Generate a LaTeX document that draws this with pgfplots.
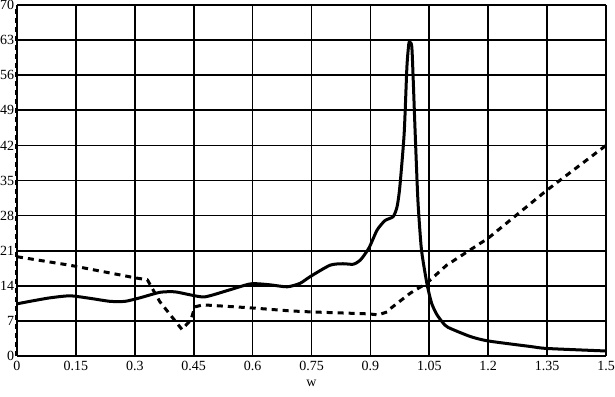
\documentclass[border=0pt]{standalone}
\usepackage{fontspec}
\setmainfont{Liberation Serif}
\usepackage{pgfplots}
\pgfplotsset{compat=1.18}
\begin{document}
\fontsize{14}{16}\selectfont
\begin{tikzpicture}[x=1pt,y=1pt]
\path[use as bounding box] (-17,-40) rectangle (598,356);
\begin{axis}[
  at={(0,0)}, anchor=south west,
  scale only axis, width=589pt, height=351pt,
  xmin=0, xmax=1.5, ymin=0, ymax=70,
  xtick={0,0.15,0.3,0.45,0.6,0.75,0.9,1.05,1.2,1.35,1.5},
  xticklabels={0,0.15,0.3,0.45,0.6,0.75,0.9,1.05,1.2,1.35,1.5},
  ytick={0,7,14,21,28,35,42,49,56,63,70},
  yticklabels={0,7,14,21,28,35,42,49,56,63,70},
  grid=major, major grid style={black, line width=1.7pt},
  axis line style={draw=none},
  major tick length=0pt,
  tick label style={font=\fontsize{14}{16}\selectfont},
  yticklabel style={xshift=2pt},
  /pgf/number format/assume math mode=true,
  xlabel={w},
  xlabel style={at={(axis description cs:0.5,0)}, anchor=center, yshift=-27pt, font=\fontsize{14}{16}\selectfont},
  clip=false,
]
% left-edge dashed segment
\addplot[black, line width=3pt, dash pattern=on 5pt off 4pt] coordinates {(0,0) (0,70)};
% bottom solid line
\addplot[black, line width=1.8pt] coordinates {(0,0) (1.5,0)};
% solid curve
\addplot[black, line width=3pt, line join=round, smooth, tension=0.4] coordinates {
(0,10.4) (0.033,10.9) (0.084,11.6) (0.135,12.0) (0.186,11.5) (0.237,10.9) (0.275,10.9)
(0.313,11.6) (0.364,12.7) (0.402,12.8) (0.441,12.2) (0.479,11.8) (0.542,13.2) (0.596,14.4)
(0.644,14.2) (0.688,13.8) (0.721,14.5) (0.746,15.8) (0.797,18.1) (0.830,18.4) (0.856,18.3)
(0.874,19.1) (0.896,21.5) (0.917,25.1) (0.937,27.0) (0.958,27.8) (0.968,29.8) (0.975,33.8)
(0.986,44.4) (0.993,57.7) (0.998,62.4) (1.001,62.5) (1.006,61.0) (1.014,44.5) (1.021,31.0)
(1.029,22.0) (1.035,18.5) (1.045,14.0) (1.056,10.5) (1.069,8.3) (1.085,6.6) (1.098,5.7) (1.154,3.9)
(1.2,3.0) (1.307,1.9) (1.35,1.5) (1.5,1.0)
};
% dashed curve
\addplot[black, line width=3pt, dash pattern=on 6pt off 5pt, line join=round] coordinates {
(0,19.8) (0.135,18.1) (0.3,15.6) (0.332,15.2) (0.364,10.8) (0.42,5.3) (0.443,7.2) (0.453,9.8)
(0.474,10.2) (0.596,9.6) (0.695,9.0) (0.746,8.8) (0.896,8.4) (0.92,8.2) (0.943,8.8) (0.95,9.4)
(1.001,12.5) (1.043,14.5) (1.094,18.1) (1.2,23.5) (1.35,33.1) (1.5,42.0)
};
\end{axis}
\end{tikzpicture}
\end{document}
